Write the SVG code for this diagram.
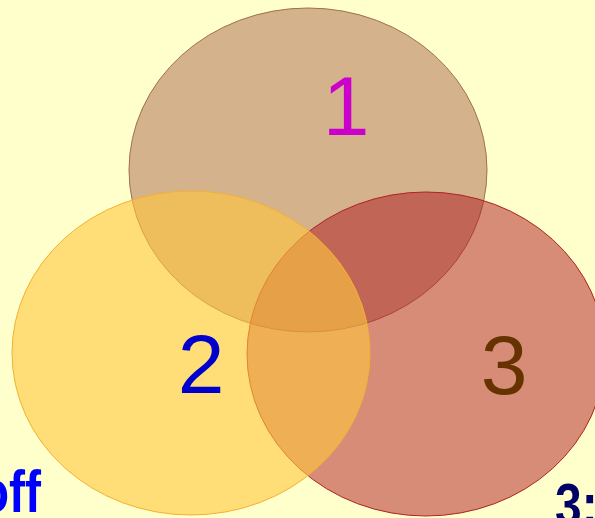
<svg xmlns="http://www.w3.org/2000/svg" width="595" height="518" viewBox="0 0 595 518">
<style>
.num{font-family:"Liberation Sans",Arial,sans-serif;font-size:84px;text-anchor:middle}
.big{font-family:"Liberation Sans",Arial,sans-serif;font-weight:bold;font-size:60px}
</style>
<rect width="595" height="518" fill="#FFFFCC"/>
<g id="set1">
<ellipse cx="308" cy="170" rx="179" ry="162" fill="#D4B28C" stroke="#A0704A" stroke-width="1"/>
</g>
<g id="set3">
<ellipse cx="426" cy="354" rx="179" ry="162" fill="#AD1920" fill-opacity="0.5" stroke="#B22222" stroke-width="1"/>
</g>
<g id="set2">
<ellipse cx="191" cy="353" rx="179" ry="162" fill="#FFC63E" fill-opacity="0.6" stroke="#F5B030" stroke-width="1"/>
</g>
<g id="labels">
<text class="num" x="346" y="135" fill="#CC00CC">1</text>
<text class="num" x="201" y="393" fill="#0000CC">2</text>
<text class="num" x="504" y="394" fill="#663300">3</text>
<text class="big" transform="translate(41,512) scale(0.8,1)" text-anchor="end" fill="#0000FF">off</text>
<text class="big" transform="translate(555,525) scale(0.8,1)" fill="#000066">3:</text>
</g>
</svg>
